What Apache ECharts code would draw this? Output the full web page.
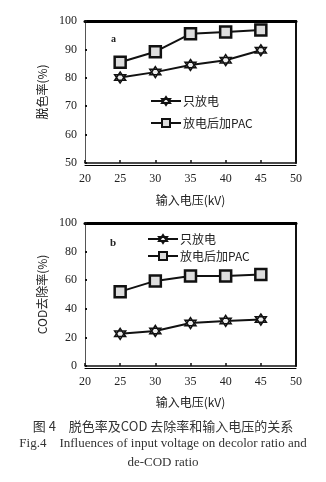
<!DOCTYPE html>
<html>
<head>
<meta charset="utf-8">
<script src="https://cdn.jsdelivr.net/npm/echarts@6/dist/echarts.min.js"></script>
<style>
  html, body { margin: 0; padding: 0; background: #fff; }
  #chart { width: 326px; height: 482px; }
</style>
</head>
<body>
<div id="chart"></div>
<script>
// Input voltage (kV)
const voltages = [25, 30, 35, 40, 45];
const xTicks = [20, 25, 30, 35, 40, 45, 50];

// Panel a: decolorization ratio (%)
const decolorDischarge = [80.1, 82.0, 84.5, 86.2, 89.7];
const decolorDischargePAC = [85.5, 89.2, 95.5, 96.1, 96.8];

// Panel b: COD removal ratio (%)
const codDischarge = [22.5, 24.5, 30.0, 31.5, 32.5];
const codDischargePAC = [52.0, 59.5, 63.0, 63.0, 64.0];

const seriesNames = ['只放电', '放电后加PAC'];
const captionCn = '图 4　脱色率及COD 去除率和输入电压的关系';
const captionEn1 = 'Fig.4    Influences of input voltage on decolor ratio and';
const captionEn2 = 'de-COD ratio';

const serif = '"Liberation Serif", "DejaVu Serif", "Noto Sans CJK SC", serif';
const cjk = '"Noto Sans CJK SC", "Liberation Serif", serif';

// six-point star marker (two overlapping triangles)
const starSymbol = 'path://M5,0L9.33,7.5L0.67,7.5Z M5,10L0.67,2.5L9.33,2.5Z';
// panel b series carry a trailing space so each panel has its own legend entries
const namesB = seriesNames.map(n => n + ' ');

function pairs(xs, ys) { return xs.map((x, i) => [x, ys[i]]); }

function mainX(grid, nameGap) {
  return {
    type: 'value', gridIndex: grid, min: 20, max: 50, interval: 5,
    name: '输入电压(kV)', nameLocation: 'middle', nameGap: nameGap,
    nameTextStyle: { fontFamily: cjk, fontSize: 12, color: '#222' },
    axisLine: { show: true, onZero: false, lineStyle: { color: '#111', width: 1.5 } },
    axisTick: { show: true, inside: true, length: 3, lineStyle: { color: '#111', width: 1.5 } },
    axisLabel: { margin: 10, fontFamily: serif, fontSize: 12, color: '#222' },
    splitLine: { show: false }
  };
}
function frameX(grid, pos, offset, width) {
  return {
    type: 'value', gridIndex: grid, min: 20, max: 50, interval: 5, position: pos, offset: offset,
    axisLine: { show: true, onZero: false, lineStyle: { color: '#000', width: width } },
    axisTick: { show: false }, axisLabel: { show: false }, splitLine: { show: false }
  };
}
function mainY(grid, min, max, interval, name, nameGap) {
  return {
    type: 'value', gridIndex: grid, min: min, max: max, interval: interval,
    name: name, nameLocation: 'middle', nameGap: nameGap,
    nameTextStyle: { fontFamily: cjk, fontSize: 12, color: '#222' },
    axisLine: { show: true, onZero: false, lineStyle: { color: '#555', width: 1 } },
    axisTick: { show: true, inside: true, length: 2, lineStyle: { color: '#111', width: 2 } },
    axisLabel: { margin: 8, fontFamily: serif, fontSize: 12, color: '#222' },
    splitLine: { show: false }
  };
}
function frameY(grid, min, max) {
  return {
    type: 'value', gridIndex: grid, min: min, max: max, position: 'right',
    axisLine: { show: true, onZero: false, lineStyle: { color: '#111', width: 2 } },
    axisTick: { show: false }, axisLabel: { show: false }, splitLine: { show: false }
  };
}
function lineSeries(name, xi, yi, data, symbol) {
  return {
    name: name, type: 'line', xAxisIndex: xi, yAxisIndex: yi,
    data: data, symbol: symbol, symbolSize: 11,
    lineStyle: { color: '#111', width: 2 },
    itemStyle: { color: symbol === 'rect' ? '#ddd' : '#eee', borderColor: '#111', borderWidth: symbol === 'rect' ? 2.5 : 1.5 },
    animation: false, z: 5
  };
}
function legendFor(names, left, top, gap) {
  return {
    left: left, top: top, orient: 'vertical', itemGap: gap, itemWidth: 30, itemHeight: 10,
    data: names,
    textStyle: { fontFamily: cjk, fontSize: 12, color: '#222', padding: [0, 0, 0, -3] }
  };
}

const chart = echarts.init(document.getElementById('chart'), null, { renderer: 'canvas' });
chart.setOption({
  backgroundColor: '#fff',
  animation: false,
  title: [
    { text: captionCn, left: 'center', top: 415, textStyle: { fontFamily: cjk, fontSize: 13, fontWeight: 'normal', color: '#333' } },
    { text: captionEn1, left: 'center', top: 432, textStyle: { fontFamily: serif, fontSize: 13, fontWeight: 'normal', color: '#333' } },
    { text: captionEn2, left: 'center', top: 451, textStyle: { fontFamily: serif, fontSize: 13, fontWeight: 'normal', color: '#333' } },
    { text: 'a', left: 106, top: 29, textStyle: { fontFamily: serif, fontSize: 10, fontWeight: 'bold', color: '#222' } },
    { text: 'b', left: 105, top: 233, textStyle: { fontFamily: serif, fontSize: 11, fontWeight: 'bold', color: '#222' } }
  ],
  grid: [
    { left: 85, top: 21, width: 211, height: 142 },
    { left: 85, top: 223, width: 211, height: 143 }
  ],
  legend: [
    legendFor(seriesNames, 145, 90, 10),
    legendFor(namesB, 142, 228, 5)
  ],
  xAxis: [
    mainX(0, 31), frameX(0, 'top', 0, 3), frameX(0, 'bottom', 2, 1),
    mainX(1, 30), frameX(1, 'top', 0, 3), frameX(1, 'bottom', 2, 1)
  ],
  yAxis: [
    mainY(0, 50, 100, 10, '脱色率(%)', 31), frameY(0, 50, 100),
    mainY(1, 0, 100, 20, 'COD去除率(%)', 31), frameY(1, 0, 100)
  ],
  series: [
    lineSeries(seriesNames[0], 0, 0, pairs(voltages, decolorDischarge), starSymbol),
    lineSeries(seriesNames[1], 0, 0, pairs(voltages, decolorDischargePAC), 'rect'),
    lineSeries(namesB[0], 3, 2, pairs(voltages, codDischarge), starSymbol),
    lineSeries(namesB[1], 3, 2, pairs(voltages, codDischargePAC), 'rect')
  ]
});
</script>
</body>
</html>
